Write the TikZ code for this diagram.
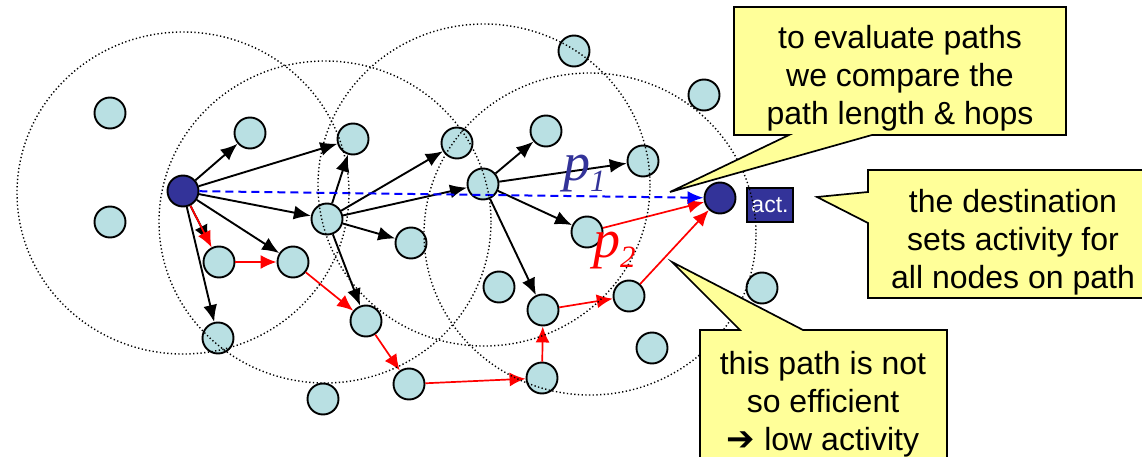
\documentclass[tikz,border=0pt]{standalone}
\usepackage{fontspec}
\setmainfont{Liberation Sans}
\newfontfamily\labelfont{Liberation Serif}
\newfontfamily\symfont{DejaVu Sans}
\usetikzlibrary{arrows.meta}

\definecolor{peerfill}{RGB}{185,224,227}
\definecolor{navy}{RGB}{51,51,153}
\definecolor{notefill}{RGB}{255,255,153}

\tikzset{
  peer/.style={circle, draw=black, line width=1.9pt, fill=peerfill,
    minimum size=31pt, inner sep=0pt},
  endpt/.style={peer, fill=navy},
  fwd/.style={-{Latex[length=17pt,width=14pt]}, line width=1.9pt, black},
  redfwd/.style={-{Latex[length=16pt,width=14pt]}, line width=1.7pt, red},
  probe/.style={-{Latex[length=16pt,width=13pt]}, line width=2pt, blue,
    dash pattern=on 8pt off 5pt},
  radiorange/.style={draw=black, line width=1.4pt, dash pattern=on 1.3pt off 2.4pt},
  note/.style={fill=notefill, draw=black, line width=1.7pt, line join=miter},
  notetext/.style={align=center, inner sep=0pt,
    font=\fontsize{32}{38}\selectfont},
  pathlabel/.style={inner sep=0pt, anchor=base west,
    font=\labelfont\itshape\fontsize{54}{54}\selectfont},
}

\newcommand{\lowsub}[1]{\raisebox{-10pt}{\fontsize{31}{31}\selectfont #1}}

\begin{document}
\begin{tikzpicture}[x=1pt, y=-1pt]
\useasboundingbox (0,0) rectangle (1142,457);

% peers
\node[peer] (a1) at (110,113) {};
\node[peer] (a2) at (110,222) {};
\node[endpt] (src) at (183,191) {};
\node[peer] (a4) at (250,133) {};
\node[peer] (a5) at (353,139) {};
\node[peer] (a6) at (327,219) {};
\node[peer] (a7) at (219,262) {};
\node[peer] (a8) at (293,262) {};
\node[peer] (a9) at (218,338) {};
\node[peer] (a10) at (323,399) {};
\node[peer] (a11) at (366,321) {};
\node[peer] (a12) at (574,51) {};
\node[peer] (a13) at (704,95) {};
\node[peer] (a15) at (457,143) {};
\node[peer] (a16) at (546,131) {};
\node[peer] (a17) at (483,184) {};
\node[peer] (a18) at (643,161) {};
\node[peer] (a19) at (587,232) {};
\node[peer] (a20) at (411,243) {};
\node[peer] (a21) at (499,287) {};
\node[peer] (a22) at (543,310) {};
\node[peer] (a23) at (629,296) {};
\node[peer] (a24) at (409,384) {};
\node[peer] (a25) at (542,378) {};
\node[peer] (a26) at (652,348) {};
\node[peer] (a27) at (762,288) {};
\node[endpt] (dst) at (720,198) {};

% activity tag
\node[fill=navy, draw=black, line width=1.2pt, minimum width=46pt,
  minimum height=34pt, inner sep=0pt, text=white,
  font=\fontsize{23}{23}\selectfont] (act) at (770,205) {act.};

% flooding
\draw[fwd] (src) -- (a4);
\draw[fwd] (src) -- (a5);
\draw[fwd] (src) -- (a6);
\draw[fwd] (src) -- (a8);
\draw[fwd, shorten >=6pt] (src) -- (a7);
\draw[fwd] (src) -- (a9);
\draw[fwd] (a6) -- (a5);
\draw[fwd] (a6) -- (a15);
\draw[fwd] (a6) -- (a17);
\draw[fwd] (a6) -- (a20);
\draw[fwd] (a6) -- (a11);
\draw[fwd] (a17) -- (a16);
\draw[fwd] (a17) -- (a18);
\draw[fwd] (a17) -- (a19);
\draw[fwd] (a17) -- (a22);

% long path p2
\draw[redfwd] (src) -- (a7);
\draw[redfwd] (a7) -- (a8);
\draw[redfwd] (a8) -- (a11);
\draw[redfwd] (a11) -- (a24);
\draw[redfwd] (a24) -- (a25);
\draw[redfwd] (a25) -- (a22);
\draw[redfwd] (a22) -- (a23);
\draw[redfwd] (a23) -- (dst);
\draw[redfwd] (a19) -- (dst);

% direct path p1
\draw[probe] (src) -- (dst);

% radio ranges
\draw[radiorange] (183,193) ellipse [x radius=166pt, y radius=161pt];
\draw[radiorange] (325,222) ellipse [x radius=166pt, y radius=161pt];
\draw[radiorange] (484,185) ellipse [x radius=166pt, y radius=161pt];
\draw[radiorange] (590,234) ellipse [x radius=166pt, y radius=161pt];

% path labels
\node[pathlabel, text=navy] (p1) at (563,181) {p\lowsub{1}};
\node[pathlabel, text=red] (p2) at (593,257) {p\lowsub{2}};

% callouts
\path[note] (734,7) -- (1066,7) -- (1066,135) -- (872,135) -- (670,192)
  -- (789,135) -- (734,135) -- cycle;
\node[notetext] (n1) at (900,78) {to evaluate paths\\we compare the\\path length \& hops};

\path[note] (868,170) -- (1160,170) -- (1160,298) -- (868,298) -- (868,223)
  -- (817,197) -- (868,192) -- cycle;
\node[notetext] (n2) at (1013,242) {the destination\\sets activity for\\all nodes on path};

\path[note] (700,330) -- (740,330) -- (672,262) -- (803,330) -- (947,330)
  -- (947,475) -- (700,475) -- cycle;
\node[notetext] (n3) at (823,404) {this path is not\\so efficient\\{\symfont\fontsize{34}{34}\selectfont ➔} low activity};
\end{tikzpicture}
\end{document}
